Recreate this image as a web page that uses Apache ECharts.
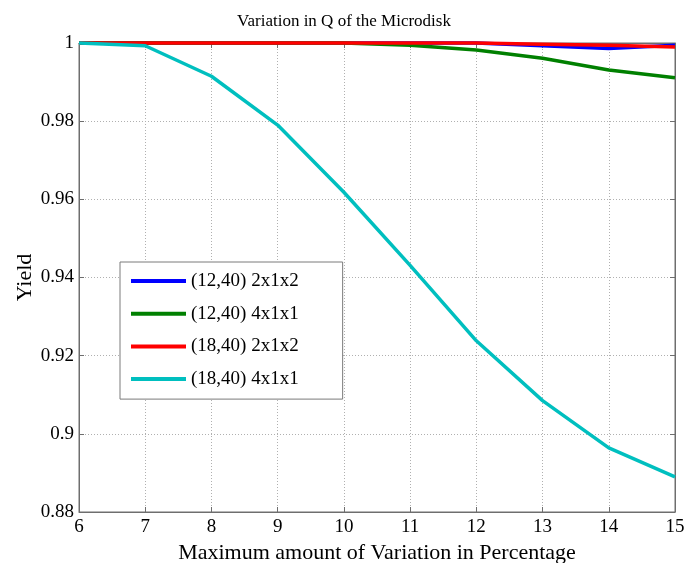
<!DOCTYPE html>
<html>
<head>
<meta charset="utf-8">
<script src="https://cdn.jsdelivr.net/npm/echarts@6/dist/echarts.min.js"></script>
<style>
  html, body { margin: 0; padding: 0; background: #fff; }
  #chart { width: 688px; height: 563px; }
</style>
</head>
<body>
<div id="chart"></div>
<script>
// Maximum variation (%) on the x axis
const variation = [6, 7, 8, 9, 10, 11, 12, 13, 14, 15];

// Yield for each microdisk configuration
const yield_12_40_2x1x2 = [1, 1, 1, 1, 1, 1, 1, 0.9993, 0.9986, 0.9994];
const yield_12_40_4x1x1 = [1, 1, 1, 1, 1, 0.9994, 0.9982, 0.9961, 0.9931, 0.9911];
const yield_18_40_2x1x2 = [1, 1, 1, 1, 1, 1, 1, 0.9997, 0.9994, 0.999];
const yield_18_40_4x1x1 = [1, 0.9993, 0.9915, 0.979, 0.9618, 0.9431, 0.9238, 0.9085, 0.8964, 0.889];

const seriesNames = ['(12,40) 2x1x2', '(12,40) 4x1x1', '(18,40) 2x1x2', '(18,40) 4x1x1'];
const seriesColors = ['#0000ff', '#008000', '#ff0000', '#00bfbf'];
const seriesData = [yield_12_40_2x1x2, yield_12_40_4x1x1, yield_18_40_2x1x2, yield_18_40_4x1x1];

const serif = '"Liberation Serif", "DejaVu Serif", serif';
const frameColor = '#6e6e6e';
const gridLine = { show: true, lineStyle: { color: '#b0b0b0', type: [1, 2], width: 1 } };

const chart = echarts.init(document.getElementById('chart'), null, { renderer: 'canvas' });

const fmt = v => String(parseFloat(v.toFixed(4)));

chart.setOption({
  animation: false,
  backgroundColor: '#ffffff',
  title: {
    text: 'Variation in Q of the Microdisk',
    left: 'center',
    top: 8,
    textStyle: { fontFamily: serif, fontWeight: 'normal', fontSize: 17, color: '#000' }
  },
  legend: {
    orient: 'vertical',
    left: 120,
    top: 262,
    padding: [9, 44, 10, 11],
    itemGap: 12.7,
    itemWidth: 55,
    itemHeight: 4,
    backgroundColor: '#ffffff',
    borderColor: '#7a7a7a',
    borderWidth: 1,
    borderRadius: 0,
    icon: 'rect',
    textStyle: { fontFamily: serif, fontSize: 19, lineHeight: 20, color: '#000' },
    data: seriesNames
  },
  grid: {
    left: 79,
    right: 13,
    top: 43,
    bottom: 51,
    containLabel: false,
    outerBoundsMode: 'none',
    show: true,
    borderColor: frameColor,
    borderWidth: 1,
    backgroundColor: '#ffffff'
  },
  xAxis: [{
    type: 'value',
    min: 6,
    max: 15,
    interval: 1,
    name: 'Maximum amount of Variation in Percentage',
    nameLocation: 'middle',
    nameGap: 23,
    nameTextStyle: { fontFamily: serif, fontSize: 22, color: '#000' },
    axisLine: { show: true, lineStyle: { color: frameColor } },
    axisTick: { show: true, inside: true, length: 5, lineStyle: { color: frameColor } },
    axisLabel: { fontFamily: serif, fontSize: 19, color: '#000', margin: 6 },
    splitLine: gridLine
  }, {
    type: 'value',
    position: 'top',
    min: 6,
    max: 15,
    interval: 1,
    axisLine: { show: true, lineStyle: { color: frameColor } },
    axisTick: { show: true, inside: true, length: 5, lineStyle: { color: frameColor } },
    axisLabel: { show: false },
    splitLine: { show: false }
  }],
  yAxis: [{
    type: 'value',
    min: 0.88,
    max: 1,
    interval: 0.02,
    name: 'Yield',
    nameLocation: 'middle',
    nameMoveOverlap: false,
    nameGap: 43,
    nameTextStyle: { fontFamily: serif, fontSize: 22, color: '#000' },
    axisLine: { show: true, lineStyle: { color: frameColor } },
    axisTick: { show: true, inside: true, length: 5, lineStyle: { color: frameColor } },
    axisLabel: { fontFamily: serif, fontSize: 19, color: '#000', margin: 5, formatter: fmt },
    splitLine: gridLine
  }, {
    type: 'value',
    position: 'right',
    min: 0.88,
    max: 1,
    interval: 0.02,
    axisLine: { show: true, lineStyle: { color: frameColor } },
    axisTick: { show: true, inside: true, length: 5, lineStyle: { color: frameColor } },
    axisLabel: { show: false },
    splitLine: { show: false }
  }],
  series: seriesNames.map((name, i) => ({
    name: name,
    type: 'line',
    xAxisIndex: 0,
    yAxisIndex: 0,
    data: variation.map((x, j) => [x, seriesData[i][j]]),
    showSymbol: false,
    symbol: 'none',
    clip: false,
    color: seriesColors[i],
    lineStyle: { color: seriesColors[i], width: 3.5 },
    z: 2 + i
  }))
});
</script>
</body>
</html>
